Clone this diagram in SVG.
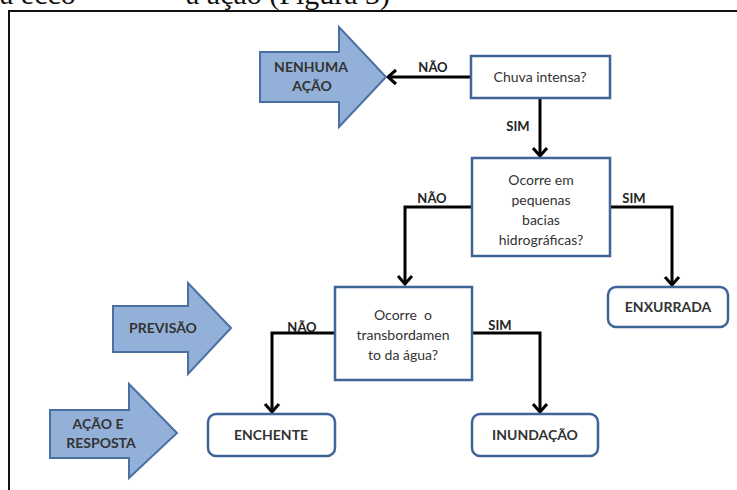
<svg xmlns="http://www.w3.org/2000/svg" width="737" height="490" viewBox="0 0 737 490">
<defs>
<marker id="ah" markerUnits="userSpaceOnUse" markerWidth="20" markerHeight="20" viewBox="-12 -10 14 20" refX="0" refY="0" orient="auto">
<path d="M-8,-7 L0,0 L-8,7" fill="none" stroke="#000" stroke-width="3"/>
</marker>
<style>
.box{fill:#fff;stroke:#3f6598;stroke-width:2.5}
.big{fill:#93b1d8;stroke:#4a6fa3;stroke-width:2}
.t{font-family:Lato,"Open Sans",sans-serif;font-size:14px;fill:#333;text-anchor:middle}
.b{font-family:Lato,"Open Sans",sans-serif;font-size:14px;font-weight:bold;fill:#333;text-anchor:middle}
.lb{font-family:Lato,"Open Sans",sans-serif;font-size:13px;font-weight:bold;fill:#222;text-anchor:middle}
.c{fill:none;stroke:#000;stroke-width:3;marker-end:url(#ah)}
.top{font-family:"Liberation Serif",serif;font-size:30px;fill:#111}
</style>
</defs>
<rect width="737" height="490" fill="#fff"/>
<text class="top" x="0" y="4">a ecco</text>
<text class="top" x="186" y="4">a ação (Figura 3)</text>
<path d="M9,490 V11 H737" fill="none" stroke="#111" stroke-width="2"/>

<g id="connectors">
<path class="c" d="M471,77 H388"/>
<path class="c" d="M540,98 V156"/>
<path class="c" d="M472,207 H405 V284"/>
<path class="c" d="M610,207 H672 V285"/>
<path class="c" d="M335,333 H272 V412"/>
<path class="c" d="M472,333 H540 V412"/>
<text class="lb" x="433" y="72">NÃO</text>
<text class="lb" x="518" y="131">SIM</text>
<text class="lb" x="432" y="203">NÃO</text>
<text class="lb" x="634" y="203">SIM</text>
<text class="lb" x="302" y="332">NÃO</text>
<text class="lb" x="500" y="330">SIM</text>
</g>

<g id="nenhuma-acao">
<path class="big" d="M260,52 H339 V27 L386,77 L339,127 V102 H260 Z"/>
<text class="b" x="311" y="72">NENHUMA</text>
<text class="b" x="312" y="91">AÇÃO</text>
</g>
<g id="previsao">
<path class="big" d="M113,306 H188 V283 L231,328 L188,374 V352 H113 Z"/>
<text class="b" x="163" y="333">PREVISÃO</text>
</g>
<g id="acao-resposta">
<path class="big" d="M50,410 H129 V384 L177,433 L129,478 V458 H50 Z"/>
<text class="b" x="98" y="429">AÇÃO E</text>
<text class="b" x="101" y="448">RESPOSTA</text>
</g>

<g id="chuva">
<rect class="box" x="471" y="56" width="139" height="42"/>
<text class="t" x="540" y="82">Chuva intensa?</text>
</g>
<g id="bacias">
<rect class="box" x="472" y="158" width="138" height="98"/>
<text class="t" x="541" y="185">Ocorre em</text>
<text class="t" x="541" y="205">pequenas</text>
<text class="t" x="541" y="225">bacias</text>
<text class="t" x="541" y="245">hidrográficas?</text>
</g>
<g id="transbordamento">
<rect class="box" x="335" y="287" width="137" height="93"/>
<text class="t" x="403" y="320">Ocorre&#160; o</text>
<text class="t" x="403" y="340">transbordamen</text>
<text class="t" x="403" y="360">to da água?</text>
</g>
<g id="enxurrada">
<rect class="box" x="608" y="287" width="120" height="40" rx="8"/>
<text class="b" x="668" y="312">ENXURRADA</text>
</g>
<g id="enchente">
<rect class="box" x="208" y="414" width="127" height="42" rx="8"/>
<text class="b" x="271" y="440">ENCHENTE</text>
</g>
<g id="inundacao">
<rect class="box" x="472" y="414" width="126" height="42" rx="8"/>
<text class="b" x="535" y="440">INUNDAÇÃO</text>
</g>
</svg>
